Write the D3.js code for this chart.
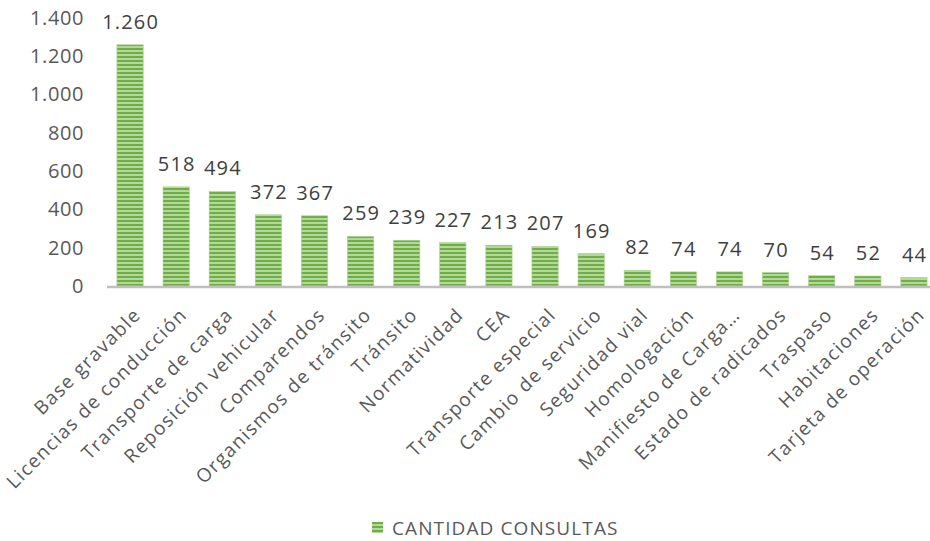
<!DOCTYPE html>
<html lang="es">
<head>
<meta charset="UTF-8">
<title>Cantidad consultas</title>
<script src="https://cdnjs.cloudflare.com/ajax/libs/d3/7.8.5/d3.min.js"></script>
<style>
  body { margin: 0; background: #fff; }
  svg { display: block; font-family: "Open Sans", sans-serif; }
</style>
</head>
<body>
<div id="chart"></div>
<script>
  // datos
  const categories = [
    "Base gravable", "Licencias de conducción", "Transporte de carga",
    "Reposición vehicular", "Comparendos", "Organismos de tránsito",
    "Tránsito", "Normatividad", "CEA", "Transporte especial",
    "Cambio de servicio", "Seguridad vial", "Homologación",
    "Manifiesto de Carga…", "Estado de radicados", "Traspaso",
    "Habitaciones", "Tarjeta de operación"
  ];
  const values = [1260, 518, 494, 372, 367, 259, 239, 227, 213, 207, 169, 82, 74, 74, 70, 54, 52, 44];
  const yTicks = [0, 200, 400, 600, 800, 1000, 1200, 1400];
  const seriesName = "CANTIDAD CONSULTAS";

  const width = 930, height = 541;
  const fmt = d => d3.format(",")(d).replace(/,/g, ".");

  const svg = d3.select("#chart").append("svg")
    .attr("width", width)
    .attr("height", height);

  // patrón de rayas horizontales
  const defs = svg.append("defs");
  const pat = defs.append("pattern")
    .attr("id", "stripes")
    .attr("patternUnits", "userSpaceOnUse")
    .attr("width", 8).attr("height", 4);
  pat.append("rect").attr("width", 8).attr("height", 4).attr("fill", "#b3d99a");
  pat.append("rect").attr("y", 0).attr("width", 8).attr("height", 2).attr("fill", "#70ad47");

  const x = d3.scaleBand()
    .domain(categories)
    .range([107, 937])
    .paddingInner(0.43)
    .paddingOuter(0.215);

  const y = d3.scaleLinear()
    .domain([0, 1400])
    .range([286, 18]);

  // eje y (sin línea)
  const yAxis = svg.append("g")
    .attr("transform", "translate(84,0)")
    .call(d3.axisLeft(y).tickValues(yTicks).tickFormat(fmt).tickSize(0).tickPadding(0));
  yAxis.select(".domain").remove();
  yAxis.selectAll("text")
    .attr("fill", "#595959")
    .attr("font-size", 20)
    .attr("letter-spacing", 0.6)
    .attr("font-family", "Open Sans, sans-serif");

  // barras
  svg.append("g")
    .selectAll("rect")
    .data(values)
    .join("rect")
    .attr("x", (d, i) => x(categories[i]))
    .attr("y", d => y(d))
    .attr("width", x.bandwidth())
    .attr("height", d => y(0) - y(d))
    .attr("fill", "url(#stripes)")
    .attr("stroke", "#a9d18e")
    .attr("stroke-width", 0.6);

  // línea base
  svg.append("line")
    .attr("x1", 107).attr("x2", 930)
    .attr("y1", y(0) + 1).attr("y2", y(0) + 1)
    .attr("stroke", "#bfbfbf")
    .attr("stroke-width", 2.5);

  // etiquetas de datos
  svg.append("g")
    .selectAll("text")
    .data(values)
    .join("text")
    .attr("x", (d, i) => x(categories[i]) + x.bandwidth() / 2 + 0.6)
    .attr("y", d => y(d) - 16)
    .attr("text-anchor", "middle")
    .attr("fill", "#404040")
    .attr("font-size", 20)
    .attr("letter-spacing", 1.2)
    .text(fmt);

  // etiquetas del eje x, rotadas
  svg.append("g")
    .selectAll("text")
    .data(categories)
    .join("text")
    .attr("transform", d => `translate(${x(d) + x.bandwidth() / 2 + 12},${y(0) + 30}) rotate(-45)`)
    .attr("text-anchor", "end")
    .attr("fill", "#595959")
    .attr("font-size", 19)
    .attr("letter-spacing", 1.4)
    .text(d => d);

  // leyenda
  const legend = svg.append("g").attr("transform", "translate(372,522)");
  legend.append("rect")
    .attr("width", 11).attr("height", 11)
    .attr("fill", "url(#stripes)");
  legend.append("text")
    .attr("x", 20).attr("y", 13)
    .attr("fill", "#595959")
    .attr("font-size", 19)
    .attr("letter-spacing", 1.1)
    .text(seriesName);
</script>
</body>
</html>
